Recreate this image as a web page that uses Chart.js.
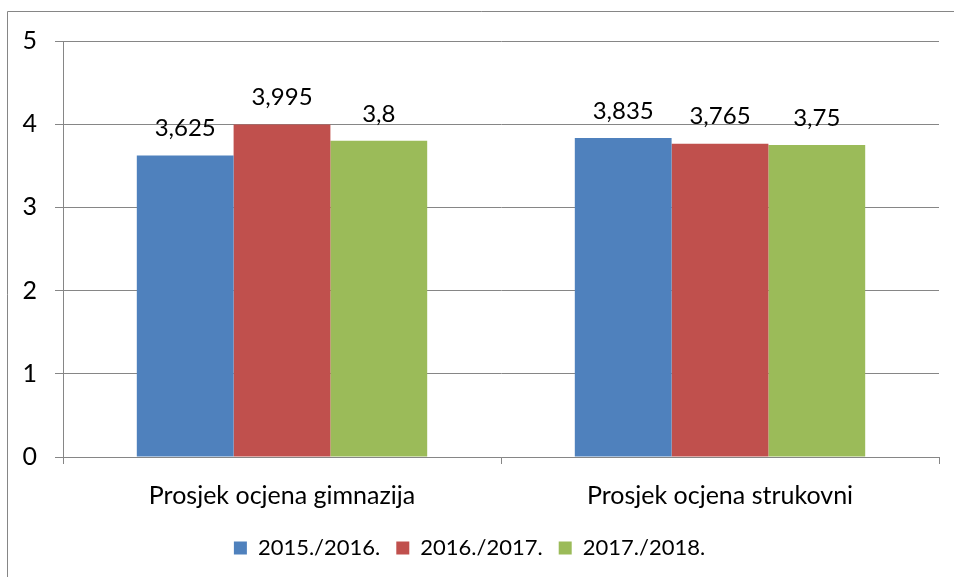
<!DOCTYPE html>
<html>
<head>
<meta charset="utf-8">
<script src="https://cdn.jsdelivr.net/npm/chart.js@4/dist/chart.umd.min.js"></script>
<style>
  html, body { margin: 0; padding: 0; background: #fff; }
  #wrap { width: 954px; height: 577px; position: relative; }
</style>
</head>
<body>
<div id="wrap"><canvas id="c" width="954" height="577"></canvas></div>
<script>
const categories = ["Prosjek ocjena gimnazija", "Prosjek ocjena strukovni"];
const seriesNames = ["2015./2016.", "2016./2017.", "2017./2018."];
const values2015 = [3.625, 3.835];
const values2016 = [3.995, 3.765];
const values2017 = [3.8, 3.75];
const yTicks = [0, 1, 2, 3, 4, 5];

const colors = ["#4F81BD", "#C0504D", "#9BBB59"];
const FONT = "Lato";
const FS = 25;
const GRID = "#868686";

const fmt = v => String(v).replace(".", ",");

const frame = {
  id: "frame",
  beforeDraw(chart) {
    const ctx = chart.ctx;
    ctx.save();
    ctx.fillStyle = "#fff";
    ctx.fillRect(0, 0, chart.width, chart.height);
    ctx.strokeStyle = GRID;
    ctx.lineWidth = 1;
    ctx.beginPath();
    ctx.moveTo(7.5, chart.height + 2);
    ctx.lineTo(7.5, 11.5);
    ctx.lineTo(chart.width + 2, 11.5);
    ctx.stroke();
    ctx.restore();
  }
};

const dataLabels = {
  id: "dataLabels",
  afterDatasetsDraw(chart) {
    const ctx = chart.ctx;
    ctx.save();
    ctx.font = "24px " + FONT;
    ctx.fillStyle = "#000";
    ctx.textAlign = "center";
    ctx.textBaseline = "middle";
    chart.data.datasets.forEach((ds, di) => {
      const meta = chart.getDatasetMeta(di);
      meta.data.forEach((el, i) => {
        ctx.fillText(fmt(ds.data[i]), el.x, el.y - 27);
      });
    });
    ctx.restore();
  }
};

new Chart(document.getElementById("c"), {
  type: "bar",
  data: {
    labels: categories,
    datasets: [
      { label: seriesNames[0], data: values2015, backgroundColor: colors[0] },
      { label: seriesNames[1], data: values2016, backgroundColor: colors[1] },
      { label: seriesNames[2], data: values2017, backgroundColor: colors[2] }
    ]
  },
  options: {
    responsive: false,
    animation: false,
    devicePixelRatio: 1,
    layout: { padding: { left: 0, top: 41, right: 15, bottom: 8 } },
    datasets: { bar: { barPercentage: 1, categoryPercentage: 0.663, borderWidth: 0 } },
    scales: {
      x: {
        grid: { drawOnChartArea: false, color: GRID, tickLength: 7, offset: true },
        border: { color: GRID, width: 1 },
        ticks: { color: "#000", font: { family: FONT, size: FS }, padding: 17 },
        afterFit(s) { s.height = 64; }
      },
      y: {
        min: 0, max: 5,
        afterBuildTicks(s) { s.ticks = yTicks.map(v => ({ value: v })); },
        grid: { color: GRID, tickLength: 8 },
        border: { color: GRID, width: 1 },
        ticks: { color: "#000", font: { family: FONT, size: FS }, padding: 18 },
        afterFit(s) { s.width = 63; }
      }
    },
    plugins: {
      legend: {
        position: "bottom",
        labels: {
          color: "#000",
          font: { family: FONT, size: 22 },
          boxWidth: 13, boxHeight: 13,
          padding: 16
        }
      },
      tooltip: { enabled: false }
    }
  },
  plugins: [frame, dataLabels]
});
</script>
</body>
</html>
